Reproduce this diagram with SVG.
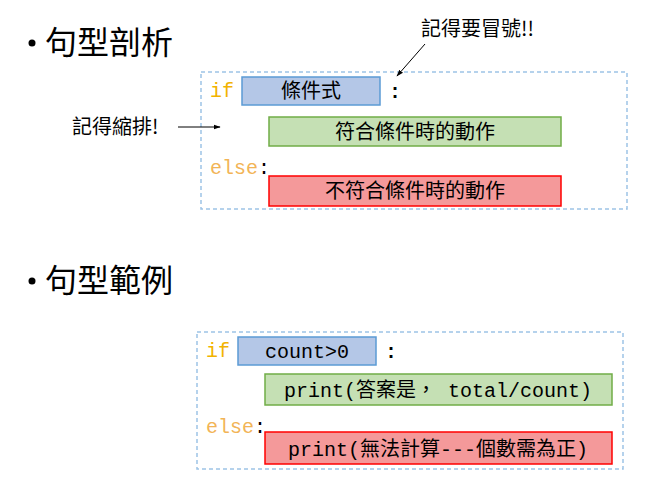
<svg xmlns="http://www.w3.org/2000/svg" width="662" height="488" viewBox="0 0 662 488">
<defs>
<marker id="ah" viewBox="0 0 10 10" refX="9" refY="5" markerWidth="7" markerHeight="7" orient="auto" markerUnits="userSpaceOnUse">
<path d="M0,1.5 L10,5 L0,8.5 z" fill="#000"/>
</marker>
<style>
.frame{fill:none;stroke:#9dc3e6;stroke-width:1.5;stroke-dasharray:4,3}
.blue{fill:#b4c7e7;stroke:#5b9bd5;stroke-width:1.5}
.green{fill:#c5e0b4;stroke:#70ad47;stroke-width:1.5}
.red{fill:#f4999a;stroke:#ff0000;stroke-width:1.5}
.cjk{font-family:"Noto Sans CJK TC","Noto Sans",sans-serif;fill:#000}
.code{font-family:"Liberation Mono","Noto Sans CJK TC",monospace;font-size:20px;fill:#000}
.kw{fill:#f2b300}
.kw2{fill:#f2b456}
.title{font-family:"Noto Sans CJK TC",sans-serif;font-size:32px;fill:#000}
.note{font-family:"Noto Sans CJK TC",sans-serif;font-size:20px;fill:#000}
.conn{stroke:#000;stroke-width:1;fill:none}
</style>
</defs>
<rect width="662" height="488" fill="#fff"/>

<g id="title1">
<circle cx="32" cy="43" r="3.5" fill="#000"/>
<text class="title" x="45" y="54">句型剖析</text>
</g>
<g id="title2">
<circle cx="32" cy="281" r="3.5" fill="#000"/>
<text class="title" x="45" y="292">句型範例</text>
</g>

<g id="syntax-frame">
<rect class="frame" x="201" y="72" width="426" height="137"/>
<text class="code kw" x="210" y="97">if</text>
<text class="code" x="389" y="98" font-weight="bold">:</text>
<text class="code" x="210" y="174"><tspan class="kw2">else</tspan>:</text>
</g>
<g id="cond">
<rect class="blue" x="242" y="77" width="138" height="28"/>
<text class="cjk" x="311" y="98" font-size="20" text-anchor="middle">條件式</text>
</g>
<g id="true-action">
<rect class="green" x="269" y="117" width="292" height="29"/>
<text class="cjk" x="415" y="139" font-size="20" text-anchor="middle">符合條件時的動作</text>
</g>
<g id="false-action">
<rect class="red" x="269" y="176" width="292" height="30"/>
<text class="cjk" x="415" y="198" font-size="20" text-anchor="middle">不符合條件時的動作</text>
</g>

<g id="note-colon">
<text class="note" x="421" y="36">記得要冒號!!</text>
</g>
<g id="note-indent">
<text class="note" x="72" y="134">記得縮排!</text>
</g>

<g id="example-frame">
<rect class="frame" x="197" y="332" width="426" height="137"/>
<text class="code kw" x="206" y="357">if</text>
<text class="code" x="385" y="358" font-weight="bold">:</text>
<text class="code" x="206" y="433"><tspan class="kw2">else</tspan>:</text>
</g>
<g id="ex-cond">
<rect class="blue" x="238" y="337" width="138" height="28"/>
<text class="code" x="307" y="358" text-anchor="middle">count&gt;0</text>
</g>
<g id="ex-true">
<rect class="green" x="265" y="374" width="347" height="31"/>
<text class="code" x="438" y="397" text-anchor="middle">print(答案是， total/count)</text>
</g>
<g id="ex-false">
<rect class="red" x="265" y="432" width="347" height="32"/>
<text class="code" x="438" y="456" text-anchor="middle">print(無法計算---個數需為正)</text>
</g>

<g id="connectors">
<line class="conn" x1="425" y1="44" x2="397" y2="76" marker-end="url(#ah)"/>
<line class="conn" x1="178" y1="127" x2="220" y2="127" marker-end="url(#ah)"/>
</g>
</svg>
